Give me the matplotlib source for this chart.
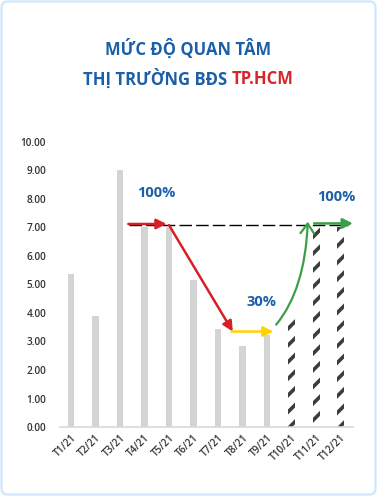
import matplotlib
matplotlib.use("Agg")
import matplotlib.pyplot as plt
from matplotlib.patches import FancyBboxPatch, FancyArrowPatch
from matplotlib.path import Path

plt.rcParams['font.family'] = ['Open Sans', 'DejaVu Sans']
plt.rcParams['hatch.linewidth'] = 2.6

# ---- data ----
months = ["T1/21", "T2/21", "T3/21", "T4/21", "T5/21", "T6/21",
          "T7/21", "T8/21", "T9/21", "T10/21", "T11/21", "T12/21"]
actual = [5.35, 3.88, 9.0, 7.0, 7.0, 5.14, 3.44, 2.83, 3.24]
forecast = [3.9, 7.0, 7.0]
yticks = [0, 1, 2, 3, 4, 5, 6, 7, 8, 9, 10]
ref_level = 7.08
pct_labels = ["100%", "30%", "100%"]

BLUE = "#1b5fa8"
RED = "#d62027"
YELLOW = "#ffd400"
GREEN = "#3c9f48"

fig = plt.figure(figsize=(3.77, 4.96), dpi=100)
fig.patch.set_facecolor("white")

# card border
card = FancyBboxPatch((0.004, 0.003), 0.992, 0.994, boxstyle="round,pad=0,rounding_size=0.014",
                      transform=fig.transFigure, facecolor="white", edgecolor="#cfe6fb",
                      linewidth=1.6, zorder=-10)
fig.patches.append(card)

# title
TS = 12
fig.text(0.5, 0.901, "MỨC ĐỘ QUAN TÂM", ha="center", va="center",
         fontsize=TS, fontweight="bold", color=BLUE)
t1 = fig.text(0.5, 0.841, "THỊ TRƯỜNG BĐS ", ha="left", va="center",
              fontsize=TS, fontweight="bold", color=BLUE)
t2 = fig.text(0.5, 0.841, "TP.HCM", ha="left", va="center",
              fontsize=TS, fontweight="bold", color="#d7262b")
fig.canvas.draw()
r = fig.canvas.get_renderer()
w1 = t1.get_window_extent(r).width / fig.bbox.width
w2 = t2.get_window_extent(r).width / fig.bbox.width
start = 0.5 - (w1 + w2) / 2
t1.set_x(start)
t2.set_x(start + w1)

ax = fig.add_axes([0.159, 0.139, 0.777, 0.575])
ax.set_facecolor("none")

xa = list(range(len(actual)))
xf = list(range(len(actual), len(actual) + len(forecast)))
ax.bar(xa, actual, width=0.25, color="#d4d4d4", zorder=2)
ax.bar(xf, forecast, width=0.28, color="white", edgecolor="#3d3d3d", hatch="//",
       linewidth=0, zorder=2)

ax.set_xlim(-0.45, 11.5)
ax.set_ylim(0, 10)
ax.set_yticks(yticks)
ax.set_yticklabels([f"{v:.2f}" for v in yticks], fontweight="semibold")
ax.set_xticks(range(len(months)))
ax.set_xticklabels(months, rotation=45, ha="right", va="top", rotation_mode="anchor",
                   fontweight="semibold")
for s in ["top", "right", "left"]:
    ax.spines[s].set_visible(False)
ax.spines["bottom"].set_color("#d9d9d9")
ax.spines["bottom"].set_linewidth(1.2)
ax.tick_params(axis="y", length=0, pad=10, labelsize=7.2, labelcolor="#333333")
ax.tick_params(axis="x", length=0, pad=4, labelsize=7.2, labelcolor="#333333")

# dashed reference line
ax.plot([2.35, 11.3], [ref_level, ref_level], color="black", lw=1.0,
        dashes=(9, 3), zorder=3)

def arrow(p0, p1, color, lw=1.8, head="-|>", ms=14):
    a = FancyArrowPatch(p0, p1, arrowstyle=head, mutation_scale=ms, color=color,
                        lw=lw, shrinkA=0, shrinkB=0, zorder=5)
    ax.add_patch(a)

# red horizontal + diagonal
arrow((2.34, 7.12), (3.9, 7.12), RED, ms=15)
arrow((4.0, 7.08), (6.6, 3.35), RED, ms=15)
# yellow
arrow((6.55, 3.35), (8.26, 3.35), YELLOW, ms=15)
# green curve
path = Path([(8.37, 3.59), (9.55, 4.82), (9.66, 7.2)],
            [Path.MOVETO, Path.CURVE3, Path.CURVE3])
ga = FancyArrowPatch(path=path, arrowstyle="->,head_length=0.5,head_width=0.35",
                     mutation_scale=14, color=GREEN, lw=1.6, zorder=5)
ax.add_patch(ga)
arrow((9.92, 7.14), (11.5, 7.14), GREEN, ms=15)

# percent labels
ax.text(3.48, 8.2, pct_labels[0], ha="center", va="center", fontsize=10.5,
        fontweight="bold", color=BLUE)
ax.text(7.79, 4.4, pct_labels[1], ha="center", va="center", fontsize=10.5,
        fontweight="bold", color=BLUE)
ax.text(10.82, 8.06, pct_labels[2], ha="center", va="center", fontsize=10.5,
        fontweight="bold", color=BLUE)

fig.savefig("out.png", dpi=100)
